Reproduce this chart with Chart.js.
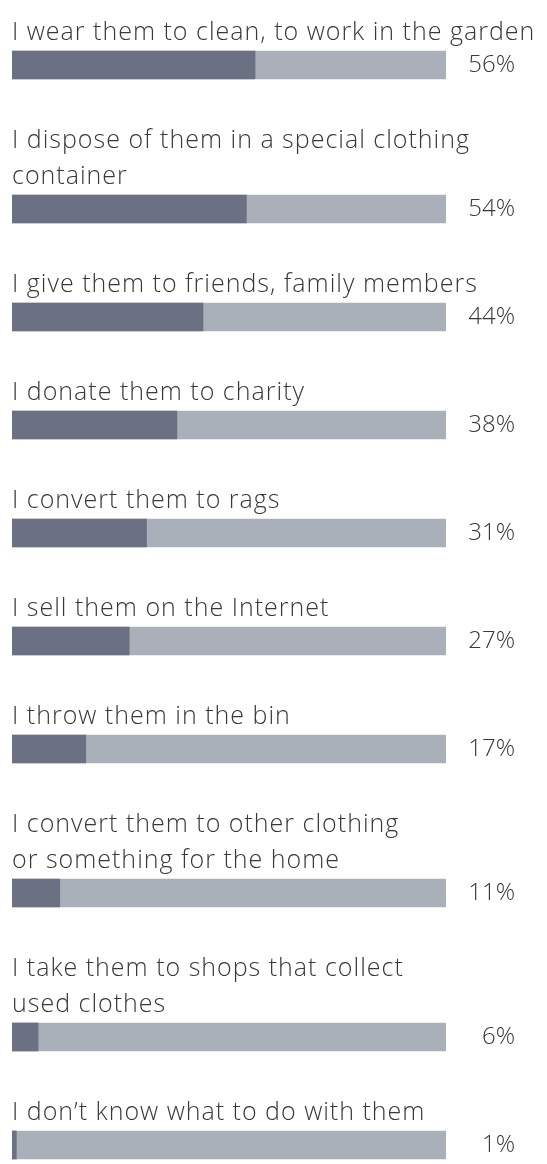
<!DOCTYPE html>
<html>
<head>
<meta charset="utf-8">
<script src="https://cdn.jsdelivr.net/npm/chart.js@4.4.0/dist/chart.umd.min.js"></script>
<style>
  html, body { margin: 0; padding: 0; background: #fff; }
  #wrap { width: 547px; height: 1164px; }
</style>
</head>
<body>
<div id="wrap"><canvas id="chart" width="547" height="1164"></canvas></div>
<script>
// answers, one array of text lines per row
const answers = [
  ['I wear them to clean, to work in the garden'],
  ['I dispose of them in a special clothing', 'container'],
  ['I give them to friends, family members'],
  ['I donate them to charity'],
  ['I convert them to rags'],
  ['I sell them on the Internet'],
  ['I throw them in the bin'],
  ['I convert them to other clothing', 'or something for the home'],
  ['I take them to shops that collect', 'used clothes'],
  ['I don\u2019t know what to do with them']
];
const shares = [56, 54, 44, 38, 31, 27, 17, 11, 6, 1];
const shareLabels = shares.map(v => v + '%');

// layout
const LINE_H = 36, BAR_H = 28, ROW_GAP = 44, TOP = 15, H = 1164;
const DARK = '#6b7082', LIGHT = '#aab0ba', TEXT = '#383838';
const FONT = '300 25px "Open Sans"';
const PCT_FONT = '300 24px "Open Sans"';

// vertical centre of each bar, stacked under its label lines
let cursor = TOP;
const barCenters = answers.map(lines => {
  const top = cursor + lines.length * LINE_H;
  cursor = top + BAR_H + ROW_GAP;
  return top + BAR_H / 2;
});

const rowText = {
  id: 'rowText',
  afterDatasetsDraw(chart) {
    const { ctx } = chart;
    const xs = chart.scales.x, ys = chart.scales.y;
    ctx.save();
    ctx.fillStyle = TEXT;
    ctx.textBaseline = 'middle';
    answers.forEach((lines, i) => {
      const yc = ys.getPixelForValue(barCenters[i]);
      const barTop = yc - BAR_H / 2;
      ctx.font = FONT;
      ctx.textAlign = 'left';
      ctx.letterSpacing = '1px';
      lines.forEach((line, j) => {
        ctx.fillText(line, xs.left, barTop - (lines.length - j) * LINE_H + LINE_H / 2);
      });
      ctx.font = PCT_FONT;
      ctx.textAlign = 'right';
      ctx.letterSpacing = '0px';
      ctx.fillText(shareLabels[i], xs.right + 69, yc);
    });
    ctx.restore();
  }
};

new Chart(document.getElementById('chart'), {
  type: 'bar',
  data: {
    datasets: [
      {
        data: shares.map((v, i) => ({ x: v, y: barCenters[i] })),
        backgroundColor: DARK,
        order: 0
      },
      {
        data: shares.map((v, i) => ({ x: 100, y: barCenters[i] })),
        backgroundColor: LIGHT,
        order: 1
      }
    ]
  },
  options: {
    indexAxis: 'y',
    responsive: false,
    animation: false,
    grouped: false,
    barThickness: BAR_H,
    borderWidth: 0,
    layout: { padding: { left: 12, right: 101, top: 0, bottom: 0 } },
    plugins: { legend: { display: false }, tooltip: { enabled: false } },
    scales: {
      x: { type: 'linear', min: 0, max: 100, display: false },
      y: { type: 'linear', min: 0, max: H, reverse: true, offset: false, display: false }
    }
  },
  plugins: [rowText]
});
</script>
</body>
</html>
